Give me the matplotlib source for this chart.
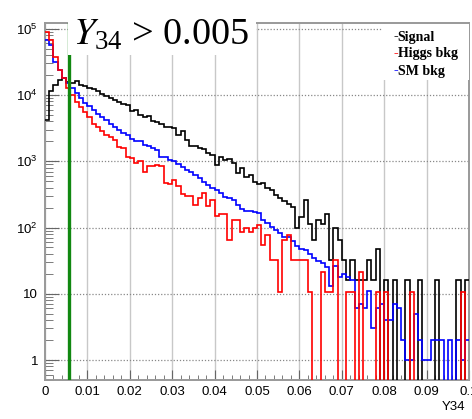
import matplotlib
matplotlib.use("Agg")
import matplotlib.pyplot as plt
import numpy as np
from matplotlib.ticker import FixedLocator, MultipleLocator, FuncFormatter, NullFormatter

# Y34 distribution, 100 bins between 0 and 0.1
x_lo, x_hi, n_bins = 0.0, 0.1, 100
cut_value = 0.0056

signal = [4200, 11500, 14000, 16800, 17800, 15900, 15400, 16500, 14100, 13700,
          12900, 12300, 11500, 10200, 9600, 8900, 8400, 7900, 7400, 7000,
          5800, 6000, 5000, 4700, 4800, 4050, 3900, 3600, 3320, 3320,
          3150, 2500, 2850, 2100, 1700, 1680, 1600, 1520, 1350, 1260,
          880, 1150, 1045, 1065, 930, 660, 780, 585, 620, 478,
          450, 465, 395, 365, 310, 282, 250, 225, 205, 97,
          145, 257, 113, 64, 129, 113, 161, 32, 97, 64,
          32, 16, 32, 16, 16, 16, 32, 16, 48, 0,
          16, 0, 16, 0, 0, 16, 0, 0, 16, 0,
          0, 0, 16, 0, 0, 0, 0, 16, 0, 16]

higgs_bkg = [88000, 68000, 38000, 24000, 18000, 12600, 10000, 7900, 6500, 5600,
             4700, 3700, 3300, 2900, 2500, 2350, 2100, 1620, 1580, 1170,
             1130, 930, 1020, 700, 850, 848, 878, 860, 464, 454,
             521, 426, 315, 304, 304, 219, 276, 332, 208, 260,
             151, 162, 162, 65, 130, 130, 86, 97, 86, 97,
             108, 54, 76, 32.4, 32.4, 10.8, 65, 76, 32.4, 32.4,
             32.4, 32.4, 10.8, 0, 0, 21.6, 10.8, 10.8, 32.4, 0,
             0, 10.8, 10.8, 0, 21.6, 0, 0, 0, 10.8, 0,
             10.8, 0, 0, 0, 0, 0, 10.8, 0, 0, 0,
             0, 0, 0, 0, 0, 0, 0, 0, 10.8, 0]

sm_bkg = [67000, 57000, 32000, 24000, 18000, 15000, 12600, 10700, 8900, 7700,
          6800, 5900, 5100, 4600, 4200, 3700, 3300, 3000, 2650, 2500,
          2200, 2050, 2000, 1750, 1680, 1600, 1500, 1170, 1170, 1045,
          1000, 900, 811, 740, 690, 625, 560, 480, 445, 400,
          370, 335, 290, 280, 258, 216, 190, 178, 178, 173,
          167, 130, 116, 101, 92, 84, 73, 72, 62, 52,
          48, 46, 40, 35, 31, 29, 25, 13, 26, 18,
          20, 18, 16, 6, 7, 6, 11, 3, 6, 7,
          4, 4, 7, 6, 2, 1, 1, 5, 2, 1,
          1, 2, 2, 2, 0, 2, 0, 2, 1, 2]

names = ['Signal', 'Higgs bkg', 'SM bkg']
colors = ['black', '#ff0000', '#0000ff']

edges = np.linspace(x_lo, x_hi, n_bins + 1)

plt.rcParams['mathtext.default'] = 'regular'

fig = plt.figure(figsize=(4.72, 4.19), dpi=100)
ax = fig.add_axes([45 / 472, 1 - 380 / 419, 424 / 472, 357 / 419])

for vals, c in zip([signal, sm_bkg, higgs_bkg], ['black', '#0000ff', '#ff0000']):
    v = np.clip(np.array(vals, dtype=float), 1e-3, None)
    ax.stairs(v, edges, baseline=None, color=c, lw=1.2, zorder=3)

ax.axvline(cut_value, color='#118811', lw=2.4, zorder=5)

ax.set_yscale('log')
ax.set_xlim(x_lo, x_hi)
ax.set_ylim(0.5, 1.22e5)

ax.xaxis.set_major_locator(MultipleLocator(0.01))
ax.xaxis.set_minor_locator(MultipleLocator(0.002))
ax.xaxis.set_major_formatter(FuncFormatter(lambda v, p: f'{v:.2g}' if v > 0 else '0'))

ax.yaxis.set_major_locator(FixedLocator([1, 10, 100, 1e3, 1e4, 1e5]))
minor = [m * 10 ** e for e in range(-1, 6) for m in range(2, 10)]
ax.yaxis.set_minor_locator(FixedLocator(minor))
ax.yaxis.set_minor_formatter(NullFormatter())

def ylab(v, p):
    n = int(round(np.log10(v)))
    if n == 0:
        return '1'
    if n == 1:
        return '10'
    return r'$10^{%d}$' % n

ax.yaxis.set_major_formatter(FuncFormatter(ylab))

for lab in ax.get_xticklabels() + ax.get_yticklabels():
    lab.set_family('Liberation Sans')
    lab.set_fontsize(9.5)

ax.tick_params(axis='both', which='both', direction='in', color='#666666',
               top=False, right=False)
ax.tick_params(axis='y', which='major', length=10, pad=5)
ax.tick_params(axis='y', which='minor', length=6)
ax.tick_params(axis='x', which='major', length=7, pad=4)
ax.tick_params(axis='x', which='minor', length=3.5)

ax.set_axisbelow(True)
ax.yaxis.grid(True, which='major', ls=(0, (1, 1.5)), color='#888888', lw=0.9)
ax.xaxis.grid(True, which='major', ls='-', color='#c8c8c8', lw=1.0)
for s in ax.spines.values():
    s.set_color('#999999')
    s.set_linewidth(1.4)

fig.text(465 / 472, 1 - 406.7 / 419, 'Y34', ha='right', va='center',
         family='Liberation Sans', fontsize=9.5)

# cut label box
fig.patches.append(plt.Rectangle((68 / 472, 1 - 55 / 419), 188 / 472, 55 / 419,
                                 transform=fig.transFigure, facecolor='white',
                                 edgecolor='none', zorder=10))
fig.text(73 / 472, 1 - 45 / 419, r'$\mathit{Y}_{34}$ > 0.005', ha='left', va='baseline',
         family='Liberation Serif', fontsize=27.5, zorder=11, math_fontfamily='stix')

# legend box
fig.patches.append(plt.Rectangle((383 / 472, 1 - 80 / 419), 86 / 472, 56 / 419,
                                 transform=fig.transFigure, facecolor='white',
                                 edgecolor='none', zorder=10))
for i, (nm, c) in enumerate(zip(names, colors)):
    yy = 1 - (37 + 17 * i) / 419
    fig.text(393 / 472, yy, '-', color=c, ha='left', va='center',
             family='Liberation Serif', fontweight='bold', fontsize=10, zorder=11)
    fig.text(397.5 / 472, yy, nm, color='black', ha='left', va='center',
             family='Liberation Serif', fontweight='bold', fontsize=10, zorder=11)

fig.savefig('out.png', dpi=100)
